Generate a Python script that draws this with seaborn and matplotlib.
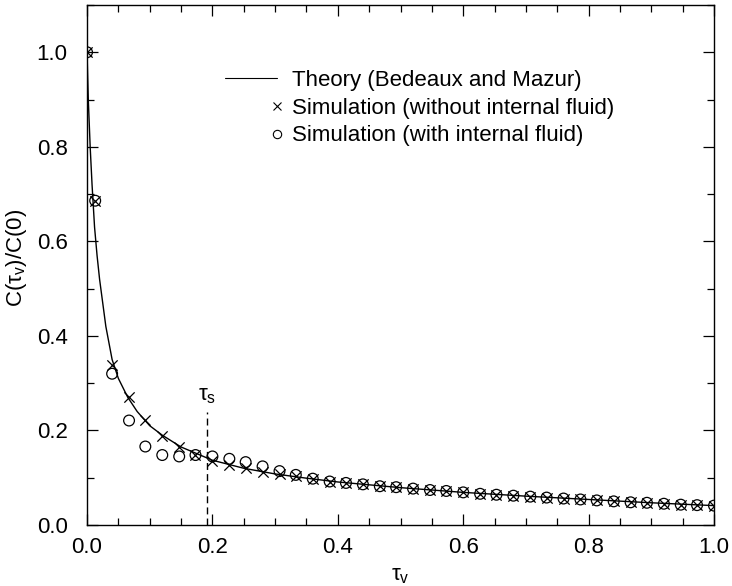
import numpy as np
import pandas as pd
import matplotlib
matplotlib.use("Agg")
import matplotlib.pyplot as plt
import seaborn as sns
from matplotlib.lines import Line2D
from matplotlib.legend_handler import HandlerLine2D
from matplotlib.ticker import MultipleLocator

# theory curve (Bedeaux and Mazur)
theory_tau = [0.0, 0.002, 0.005, 0.008, 0.012, 0.016, 0.020, 0.025, 0.030, 0.040,
              0.050, 0.065, 0.080, 0.100, 0.120, 0.150, 0.200, 0.250, 0.300, 0.350,
              0.400, 0.500, 0.600, 0.700, 0.800, 0.900, 1.000]
theory_c = [1.0, 0.90, 0.80, 0.72, 0.63, 0.57, 0.52, 0.47, 0.42, 0.35,
            0.31, 0.27, 0.24, 0.21, 0.19, 0.165, 0.137, 0.120, 0.108, 0.099,
            0.091, 0.079, 0.069, 0.061, 0.054, 0.047, 0.041]

# simulation sample times
sim_tau = [0.0, 0.013, 0.040, 0.067, 0.093, 0.120, 0.147, 0.173, 0.200, 0.227,
           0.253, 0.280, 0.307, 0.333, 0.360, 0.387, 0.413, 0.440, 0.467, 0.493,
           0.520, 0.547, 0.573, 0.600, 0.627, 0.653, 0.680, 0.707, 0.733, 0.760,
           0.787, 0.813, 0.840, 0.867, 0.893, 0.920, 0.947, 0.973, 1.000]
# without internal fluid (crosses)
sim_without = [1.0, 0.686, 0.338, 0.270, 0.223, 0.189, 0.166, 0.148, 0.136, 0.127,
               0.120, 0.113, 0.107, 0.103, 0.098, 0.092, 0.089, 0.086, 0.082, 0.080,
               0.077, 0.074, 0.072, 0.069, 0.066, 0.064, 0.062, 0.060, 0.058, 0.056,
               0.054, 0.052, 0.050, 0.048, 0.047, 0.045, 0.043, 0.042, 0.041]
# with internal fluid (circles)
sim_with = [1.0, 0.686, 0.320, 0.221, 0.166, 0.148, 0.145, 0.148, 0.145, 0.140,
            0.133, 0.124, 0.114, 0.106, 0.098, 0.092, 0.089, 0.086, 0.082, 0.080,
            0.077, 0.074, 0.072, 0.069, 0.066, 0.064, 0.062, 0.060, 0.058, 0.056,
            0.054, 0.052, 0.050, 0.048, 0.047, 0.045, 0.043, 0.042, 0.041]

tau_s = 0.191
tau_s_top = 0.24


# legend handler that puts the marker at the right end of the handle (xmgrace style)
class RightMarkerHandler(HandlerLine2D):
    def create_artists(self, legend, orig_handle, xdescent, ydescent,
                       width, height, fontsize, trans):
        x0, x1 = -xdescent, -xdescent + width
        y = (height - ydescent) / 2
        line = Line2D([x0, x1], [y, y])
        self.update_prop(line, orig_handle, legend)
        line.set_markevery([1])
        line.set_transform(trans)
        return [line]


sns.set_style("ticks")
plt.rcParams['font.family'] = ['Liberation Sans', 'DejaVu Sans']
plt.rcParams['mathtext.fontset'] = 'custom'
plt.rcParams['mathtext.rm'] = 'Liberation Sans'
plt.rcParams['mathtext.it'] = 'Liberation Sans'
plt.rcParams['text.color'] = 'black'
plt.rcParams['axes.labelcolor'] = 'black'
plt.rcParams['xtick.color'] = 'black'
plt.rcParams['ytick.color'] = 'black'

fig = plt.figure(figsize=(7.32, 5.86), dpi=100)
ax = fig.add_axes([0.1189, 0.1041, 0.8565, 0.8874])

df_theory = pd.DataFrame({'tau': theory_tau, 'c': theory_c})
df_sim = pd.DataFrame({'tau': sim_tau, 'without': sim_without, 'with': sim_with})

sns.lineplot(data=df_theory, x='tau', y='c', ax=ax, color='black', linewidth=1.0,
             sort=False)
ax.scatter(df_sim['tau'], df_sim['without'], marker='x', s=55, color='black',
           linewidths=0.9, zorder=3)
ax.scatter(df_sim['tau'], df_sim['with'], marker='o', s=60, facecolors='none',
           edgecolors='black', linewidths=0.9, zorder=3)

ax.plot([tau_s, tau_s], [0, tau_s_top], color='black', linestyle=(0, (5, 3)),
        linewidth=1.0)
ax.text(tau_s, tau_s_top + 0.012, r'$\tau_{\mathrm{s}}$', ha='center', va='bottom',
        fontsize=16)

ax.set_xlim(0, 1.0)
ax.set_ylim(0, 1.1)
ax.xaxis.set_major_locator(MultipleLocator(0.2))
ax.xaxis.set_minor_locator(MultipleLocator(0.05))
ax.yaxis.set_major_locator(MultipleLocator(0.2))
ax.yaxis.set_minor_locator(MultipleLocator(0.1))
ax.tick_params(which='both', direction='in', top=True, right=True, labelsize=16,
               color='black', width=0.9)
ax.tick_params(which='major', length=8)
ax.tick_params(which='minor', length=5)
ax.tick_params(axis='x', which='major', pad=9)
ax.tick_params(axis='y', which='major', pad=14)
ax.xaxis.set_major_formatter(plt.FuncFormatter(lambda v, p: f'{v:.1f}'))
ax.yaxis.set_major_formatter(plt.FuncFormatter(lambda v, p: f'{v:.1f}'))
for sp in ax.spines.values():
    sp.set_visible(True)
    sp.set_color('black')
    sp.set_linewidth(1.0)

ax.set_xlabel(r'$\tau_{\mathrm{v}}$', fontsize=16, labelpad=5)
ax.set_ylabel(r'C($\tau_{\mathrm{v}}$)/C(0)', fontsize=16)
ax.yaxis.set_label_coords(-0.092, 0.513)

handles = [
    Line2D([], [], color='black', linewidth=0.8),
    Line2D([], [], color='black', marker='x', linestyle='none', markersize=6,
           markeredgewidth=0.8),
    Line2D([], [], color='black', marker='o', linestyle='none', markersize=6,
           markerfacecolor='none', markeredgewidth=0.8),
]
labels = ['Theory (Bedeaux and Mazur)', 'Simulation (without internal fluid)',
          'Simulation (with internal fluid)']
ax.legend(handles, labels, loc='upper left', bbox_to_anchor=(0.220, 0.875),
          frameon=False, fontsize=16, handlelength=2.35, handletextpad=0.68,
          labelspacing=0.3, borderaxespad=0, borderpad=0,
          handler_map={Line2D: RightMarkerHandler()})

fig.savefig('out.png', dpi=100)
